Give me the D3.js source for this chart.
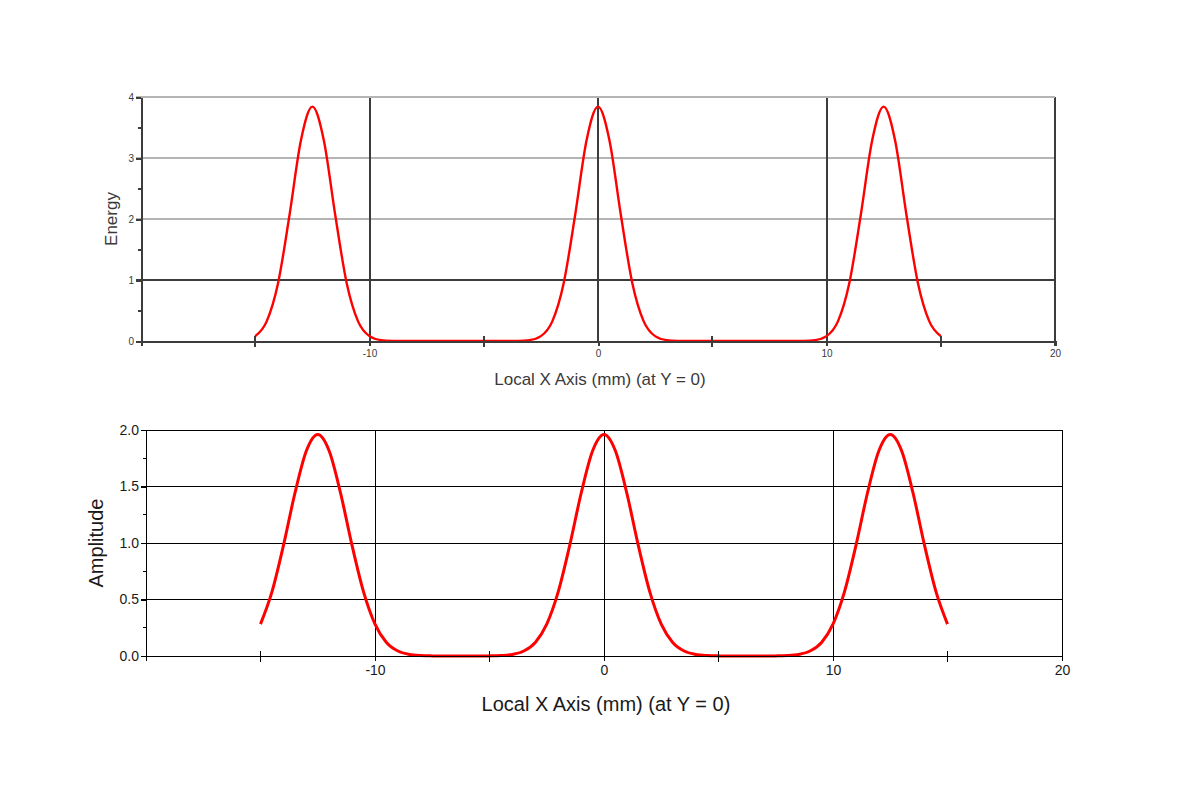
<!DOCTYPE html>
<html>
<head>
<meta charset="utf-8">
<script src="https://cdn.jsdelivr.net/npm/d3@7"></script>
<style>
  body { margin: 0; background: #fff; }
  svg { display: block; font-family: "Liberation Sans", Arial, sans-serif; }
</style>
</head>
<body>
<svg width="1200" height="800"></svg>
<script>
// sample positions along local X (mm)
const xPos = [-15, -14.5, -14, -13.5, -13, -12.5, -12, -11.5, -11, -10.5, -10, -9.5, -9, -8.5, -8, -7.5, -7, -6.5, -6, -5.5,
              -5, -4.5, -4, -3.5, -3, -2.5, -2, -1.5, -1, -0.5, 0, 0.5, 1, 1.5, 2, 2.5, 3, 3.5, 4, 4.5,
              5, 5.5, 6, 6.5, 7, 7.5, 8, 8.5, 9, 9.5, 10, 10.5, 11, 11.5, 12, 12.5, 13, 13.5, 14, 14.5, 15];

// amplitude
const amplitude = [0.282, 0.567, 0.976, 1.438, 1.814, 1.96, 1.814, 1.438, 0.976, 0.567, 0.282, 0.120, 0.044, 0.014, 0.004, 0.001, 0, 0, 0, 0,
                   0.001, 0.004, 0.014, 0.044, 0.120, 0.282, 0.567, 0.976, 1.438, 1.814, 1.96, 1.814, 1.438, 0.976, 0.567, 0.282, 0.120, 0.044, 0.014, 0.004,
                   0.001, 0, 0, 0, 0, 0.001, 0.004, 0.014, 0.044, 0.120, 0.282, 0.567, 0.976, 1.438, 1.814, 1.96, 1.814, 1.438, 0.976, 0.567, 0.282];

// energy
const energy = [0.080, 0.322, 0.952, 2.066, 3.291, 3.842, 3.291, 2.066, 0.952, 0.322, 0.080, 0.0145, 0.002, 0.0002, 0, 0, 0, 0, 0, 0,
                0, 0, 0.0002, 0.002, 0.0145, 0.080, 0.322, 0.952, 2.066, 3.291, 3.842, 3.291, 2.066, 0.952, 0.322, 0.080, 0.0145, 0.002, 0.0002, 0,
                0, 0, 0, 0, 0, 0, 0, 0.0002, 0.002, 0.0145, 0.080, 0.322, 0.952, 2.066, 3.291, 3.842, 3.291, 2.066, 0.952, 0.322, 0.080];

const xMajor = [-10, 0, 10, 20];
const xMinor = [-15, -5, 5, 15];
const energyTicks = [0, 1, 2, 3, 4];
const energyMinor = [0.5, 1.5, 2.5, 3.5];
const ampTicks = [0, 0.5, 1.0, 1.5, 2.0];
const ampMinor = [0.25, 0.75, 1.25, 1.75];
const xTitle = "Local X Axis (mm) (at Y = 0)";

const svg = d3.select("svg");

function drawPanel({
    values, yMax, yTicks, yMinor, yFormat, yTitle,
    left, right, top, bottom,
    tickFont, titleFont, yTitleX, xTitleY,
    lineWidth, lineColor, gridFaint, curveWidth, textColor
}) {
    const x = d3.scaleLinear().domain([-20, 20]).range([left, right]);
    const y = d3.scaleLinear().domain([0, yMax]).range([bottom, top]);
    const g = svg.append("g");

    // horizontal grid
    g.selectAll(".hgrid")
        .data(yTicks.filter(d => d > 0))
        .join("line")
        .attr("x1", left - 5).attr("x2", right)
        .attr("y1", d => y(d)).attr("y2", d => y(d))
        .attr("stroke", d => gridFaint(d) ? "#b4b4b4" : lineColor)
        .attr("stroke-width", lineWidth)
        .attr("shape-rendering", "crispEdges");

    // vertical grid at labelled x ticks
    g.selectAll(".vgrid")
        .data(xMajor.filter(d => d < 20))
        .join("line")
        .attr("x1", d => x(d)).attr("x2", d => x(d))
        .attr("y1", top).attr("y2", bottom)
        .attr("stroke", lineColor)
        .attr("stroke-width", lineWidth)
        .attr("shape-rendering", "crispEdges");

    // right border
    g.append("line")
        .attr("x1", right).attr("x2", right)
        .attr("y1", top).attr("y2", bottom + 5)
        .attr("stroke", lineColor).attr("stroke-width", lineWidth)
        .attr("shape-rendering", "crispEdges");

    // curve
    const line = d3.line()
        .x((d, i) => x(xPos[i]))
        .y(d => y(d))
        .curve(d3.curveMonotoneX);
    g.append("path")
        .datum(values)
        .attr("fill", "none")
        .attr("stroke", "#ff0000")
        .attr("stroke-width", curveWidth)
        .attr("stroke-linejoin", "round")
        .attr("d", line);

    // y axis
    const yAxis = d3.axisLeft(y)
        .tickValues(yTicks)
        .tickFormat(yFormat)
        .tickSize(5)
        .tickPadding(2);
    const ya = g.append("g")
        .attr("transform", `translate(${left},0)`)
        .call(yAxis);
    ya.select(".domain").attr("stroke", lineColor).attr("stroke-width", lineWidth).attr("shape-rendering", "crispEdges");
    ya.selectAll(".tick line").attr("stroke", lineColor).attr("stroke-width", lineWidth).attr("shape-rendering", "crispEdges");
    ya.selectAll(".tick text").attr("fill", textColor).style("font-size", tickFont + "px");
    ya.selectAll(".minor")
        .data(yMinor)
        .join("line")
        .attr("class", "minor")
        .attr("x1", -3).attr("x2", 0)
        .attr("y1", d => y(d)).attr("y2", d => y(d))
        .attr("stroke", lineColor).attr("stroke-width", lineWidth)
        .attr("shape-rendering", "crispEdges");

    // top border (on top of axis)
    g.append("line")
        .attr("x1", left).attr("x2", right)
        .attr("y1", top).attr("y2", top)
        .attr("stroke", gridFaint(yMax) ? "#b4b4b4" : lineColor)
        .attr("stroke-width", lineWidth)
        .attr("shape-rendering", "crispEdges");

    // x axis
    const xAxis = d3.axisBottom(x)
        .tickValues(xMajor)
        .tickFormat(d => String(d))
        .tickSize(5)
        .tickPadding(4);
    const xa = g.append("g")
        .attr("transform", `translate(0,${bottom})`)
        .call(xAxis);
    xa.select(".domain").attr("stroke", lineColor).attr("stroke-width", lineWidth).attr("shape-rendering", "crispEdges");
    xa.selectAll(".tick line").attr("stroke", lineColor).attr("stroke-width", lineWidth).attr("shape-rendering", "crispEdges");
    xa.selectAll(".tick text").attr("fill", textColor).style("font-size", tickFont + "px");
    xa.selectAll(".minor")
        .data(xMinor)
        .join("line")
        .attr("class", "minor")
        .attr("x1", d => x(d)).attr("x2", d => x(d))
        .attr("y1", -5).attr("y2", 6)
        .attr("stroke", lineColor).attr("stroke-width", lineWidth)
        .attr("shape-rendering", "crispEdges");

    // titles
    g.append("text")
        .attr("x", (x(-20) + x(20)) / 2 + 2)
        .attr("y", xTitleY)
        .attr("text-anchor", "middle")
        .attr("dominant-baseline", "middle")
        .attr("fill", textColor)
        .style("font-size", titleFont + "px")
        .text(xTitle);

    g.append("text")
        .attr("transform", `translate(${yTitleX},${(top + bottom) / 2}) rotate(-90)`)
        .attr("text-anchor", "middle")
        .attr("dominant-baseline", "middle")
        .attr("fill", textColor)
        .style("font-size", titleFont + "px")
        .text(yTitle);
}

drawPanel({
    values: energy, yMax: 4, yTicks: energyTicks, yMinor: energyMinor,
    yFormat: d3.format("d"), yTitle: "Energy",
    left: 141, right: 1055, top: 97, bottom: 341,
    tickFont: 10, titleFont: 17, yTitleX: 113, xTitleY: 381,
    lineWidth: 2, lineColor: "#3c3c3c", gridFaint: d => d >= 2, curveWidth: 2.4, textColor: "#3a3a3a"
});

drawPanel({
    values: amplitude, yMax: 2, yTicks: ampTicks, yMinor: ampMinor,
    yFormat: d3.format(".1f"), yTitle: "Amplitude",
    left: 146, right: 1062, top: 430, bottom: 656,
    tickFont: 14, titleFont: 20, yTitleX: 98, xTitleY: 706,
    lineWidth: 1, lineColor: "#000", gridFaint: d => false, curveWidth: 3, textColor: "#1a1a1a"
});
</script>
</body>
</html>
